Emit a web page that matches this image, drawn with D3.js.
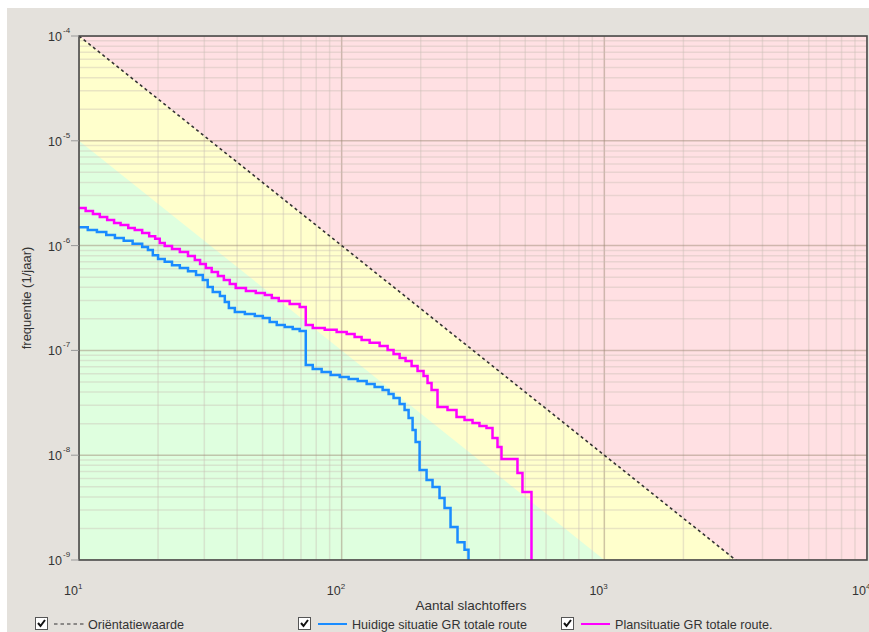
<!DOCTYPE html>
<html>
<head>
<meta charset="utf-8">
<script src="https://cdn.jsdelivr.net/npm/d3@7"></script>
<style>
  body { margin: 0; background: #fff; }
  text { font-family: "Liberation Sans", Arial, sans-serif; fill: #333; }
</style>
</head>
<body>
<div id="chart"></div>
<script>
// FN-curve data: number of victims (N) and cumulative frequency (per year)
const huidigeN = [10, 10.8, 11.7, 12.7, 13.7, 14.8, 16, 17.4, 18.3, 19.1, 20, 21.2, 22.6, 24.2, 26, 27.9, 29.6, 30.9, 32.3, 34.4,
  35.9, 37.2, 39.2, 42.8, 46.7, 50.1, 53.2, 56.6, 60.7, 65.1, 69.2, 73, 77.6, 83.9, 90.8, 98.3, 106.3, 115.1, 124.5, 133.5,
  143.2, 150.9, 157.6, 166.2, 173.6, 179.8, 186.2, 191.2, 198, 210.5, 221.8, 235.8, 246.4, 259.7, 276.1, 293.6, 304];
const huidigeF = [1.5e-6, 1.41e-6, 1.35e-6, 1.26e-6, 1.18e-6, 1.11e-6, 1.04e-6, 9.7e-7, 9.1e-7, 8.1e-7, 7.45e-7, 7.0e-7, 6.5e-7, 6.1e-7, 5.7e-7, 5.24e-7, 4.7e-7, 4.03e-7, 3.61e-7, 3.3e-7,
  2.89e-7, 2.54e-7, 2.32e-7, 2.22e-7, 2.13e-7, 2.04e-7, 1.87e-7, 1.75e-7, 1.67e-7, 1.6e-7, 1.53e-7, 7.26e-8, 6.65e-8, 6.22e-8, 5.82e-8, 5.57e-8, 5.33e-8, 5.1e-8, 4.78e-8, 4.47e-8,
  4.19e-8, 3.84e-8, 3.51e-8, 3.08e-8, 2.7e-8, 2.26e-8, 1.74e-8, 1.34e-8, 7.22e-9, 5.8e-9, 4.97e-9, 3.9e-9, 3.13e-9, 2.06e-9, 1.48e-9, 1.25e-9, 5e-10];

const planN = [10, 10.6, 11.3, 12, 12.8, 13.6, 14.4, 15.4, 16.3, 17.4, 18.5, 19.5, 20.3, 21.2, 22.6, 24.2, 26, 27.6, 28.9, 30.4,
  32, 33.8, 35.6, 37.5, 39.5, 43.2, 47.1, 51, 54.2, 57.6, 63.4, 69.2, 73, 77.6, 86.2, 95.7, 104.5, 112, 119.1, 127.8,
  139.5, 149.6, 157.6, 166.2, 175.1, 184.6, 194.5, 205, 212.3, 219.9, 231.7, 252.9, 273.7, 293.6, 314.9, 334.7, 355.9, 375.2, 392,
  405.9, 467, 487.9, 528];
const planF = [2.29e-6, 2.14e-6, 2.0e-6, 1.875e-6, 1.755e-6, 1.64e-6, 1.57e-6, 1.47e-6, 1.41e-6, 1.32e-6, 1.23e-6, 1.16e-6, 1.06e-6, 9.9e-7, 9.3e-7, 8.7e-7, 7.96e-7, 7.29e-7, 6.68e-7, 6.11e-7,
  5.6e-7, 5.13e-7, 4.7e-7, 4.3e-7, 3.94e-7, 3.69e-7, 3.53e-7, 3.38e-7, 3.16e-7, 2.96e-7, 2.77e-7, 2.59e-7, 1.75e-7, 1.64e-7, 1.57e-7, 1.5e-7, 1.43e-7, 1.34e-7, 1.26e-7, 1.18e-7,
  1.1e-7, 1.01e-7, 9.24e-8, 8.46e-8, 7.92e-8, 7.1e-8, 6.36e-8, 5.7e-8, 4.89e-8, 4.19e-8, 2.88e-8, 2.7e-8, 2.31e-8, 2.17e-8, 2.03e-8, 1.9e-8, 1.82e-8, 1.46e-8, 1.2e-8,
  9.2e-9, 6.76e-9, 4.46e-9, 5e-10];

// orientation value line (F = 1e-2 / N^2) and lower zone border (F = 1e-3 / N^2)
const orientN = [10, 10000];
const orientF = [1e-4, 1e-10];
const lowerN = [10, 10000];
const lowerF = [1e-5, 1e-11];

const xTickExp = [1, 2, 3, 4];
const yTickExp = [-4, -5, -6, -7, -8, -9];

const legendLabels = ["Oriëntatiewaarde", "Huidige situatie GR totale route", "Plansituatie GR totale route."];

const width = 869, height = 632;
const mLeft = 79, mRight = 867, mTop = 36, mBottom = 560;

const svg = d3.select("#chart").append("svg")
  .attr("width", width).attr("height", height);

// grey panel
svg.append("rect").attr("x", 7).attr("y", 8).attr("width", width - 7).attr("height", height - 8)
  .attr("fill", "#e4e1dc");

const x = d3.scaleLog().domain([10, 10000]).range([mLeft, mRight]);
const y = d3.scaleLog().domain([1e-9, 1e-4]).range([mBottom, mTop]);

svg.append("clipPath").attr("id", "plot-clip")
  .append("rect").attr("x", mLeft).attr("y", mTop).attr("width", mRight - mLeft).attr("height", mBottom - mTop);

const plot = svg.append("g").attr("clip-path", "url(#plot-clip)");

// zones
plot.append("rect").attr("x", mLeft).attr("y", mTop).attr("width", mRight - mLeft).attr("height", mBottom - mTop)
  .attr("fill", "#ffe0e3");

const area = d3.area().x(d => x(d[0])).y0(y(1e-12)).y1(d => y(d[1]));
plot.append("path").datum(orientN.map((n, i) => [n, orientF[i]]))
  .attr("d", area).attr("fill", "#ffffcc");
plot.append("path").datum(lowerN.map((n, i) => [n, lowerF[i]]))
  .attr("d", area).attr("fill", "#dfffdf");

// grid
const xAll = x.ticks();
const yAll = y.ticks();
const isMajor = v => Math.abs(Math.log10(v) - Math.round(Math.log10(v))) < 1e-6;
const gridColor = d => isMajor(d) ? "rgba(160,140,120,0.5)" : "rgba(200,190,180,0.4)";

plot.selectAll(".vgrid").data(xAll).enter().append("line")
  .attr("x1", d => x(d)).attr("x2", d => x(d)).attr("y1", mTop).attr("y2", mBottom)
  .attr("stroke", gridColor).attr("stroke-width", 1.5);
plot.selectAll(".hgrid").data(yAll).enter().append("line")
  .attr("y1", d => y(d)).attr("y2", d => y(d)).attr("x1", mLeft).attr("x2", mRight)
  .attr("stroke", gridColor).attr("stroke-width", 1.5);

// orientation line
const line = d3.line().x(d => x(d[0])).y(d => y(d[1]));
plot.append("path").datum(orientN.map((n, i) => [n, orientF[i]]))
  .attr("d", line).attr("fill", "none").attr("stroke", "#333")
  .attr("stroke-width", 1.6).attr("stroke-dasharray", "3,3");

// FN curves
const step = d3.line().x(d => x(d[0])).y(d => y(d[1])).curve(d3.curveStepAfter);
plot.append("path").datum(huidigeN.map((n, i) => [n, huidigeF[i]]))
  .attr("d", step).attr("fill", "none").attr("stroke", "#1a8cff").attr("stroke-width", 2.5);
plot.append("path").datum(planN.map((n, i) => [n, planF[i]]))
  .attr("d", step).attr("fill", "none").attr("stroke", "#ff00ff").attr("stroke-width", 2.5);

// frame
svg.append("rect").attr("x", mLeft).attr("y", mTop).attr("width", mRight - mLeft).attr("height", mBottom - mTop)
  .attr("fill", "none").attr("stroke", "#4a4a4a").attr("stroke-width", 1.6);

// y ticks and labels
const yt = svg.append("g");
yTickExp.forEach(e => {
  const yy = y(Math.pow(10, e));
  yt.append("line").attr("x1", mLeft - 8).attr("x2", mLeft).attr("y1", yy).attr("y2", yy)
    .attr("stroke", "#999").attr("stroke-width", 1);
  yt.append("text").attr("x", 62).attr("y", yy + 5).attr("text-anchor", "end")
    .attr("font-size", 12.5).text("10");
  yt.append("text").attr("x", 63).attr("y", yy - 3).attr("font-size", 8).text(e);
});

// x labels
const xt = svg.append("g");
xTickExp.forEach(e => {
  const xx = x(Math.pow(10, e));
  xt.append("text").attr("x", xx - 1).attr("y", 595).attr("text-anchor", "end")
    .attr("font-size", 12.5).text("10");
  xt.append("text").attr("x", xx - 1).attr("y", 589).attr("font-size", 8).text(e);
});

// axis titles
svg.append("text").attr("x", 471).attr("y", 610).attr("text-anchor", "middle")
  .attr("font-size", 13.5).text("Aantal slachtoffers");
svg.append("text").attr("transform", "translate(31,298) rotate(-90)").attr("text-anchor", "middle")
  .attr("font-size", 13).text("frequentie (1/jaar)");

// legend
const legendX = [35, 298, 561];
const legend = svg.append("g");
legendLabels.forEach((lab, i) => {
  const g = legend.append("g").attr("transform", `translate(${legendX[i]},617)`);
  g.append("rect").attr("x", 0.5).attr("y", 0.5).attr("width", 12).attr("height", 12)
    .attr("fill", "#fff").attr("stroke", "#555");
  g.append("path").attr("d", "M3,6 L5.5,9 L10,3").attr("fill", "none")
    .attr("stroke", "#111").attr("stroke-width", 2);
  const ln = g.append("line").attr("x1", 19).attr("y1", 7).attr("y2", 7);
  if (i === 0) {
    ln.attr("x2", 50).attr("stroke", "#333").attr("stroke-width", 1.2).attr("stroke-dasharray", "3.5,3");
  } else {
    ln.attr("x1", 20).attr("x2", 49).attr("stroke", i === 1 ? "#1a8cff" : "#ff00ff").attr("stroke-width", 2);
  }
  g.append("text").attr("x", i === 0 ? 53 : 54).attr("y", 11.5).attr("font-size", 12.6).text(lab);
});
</script>
</body>
</html>
